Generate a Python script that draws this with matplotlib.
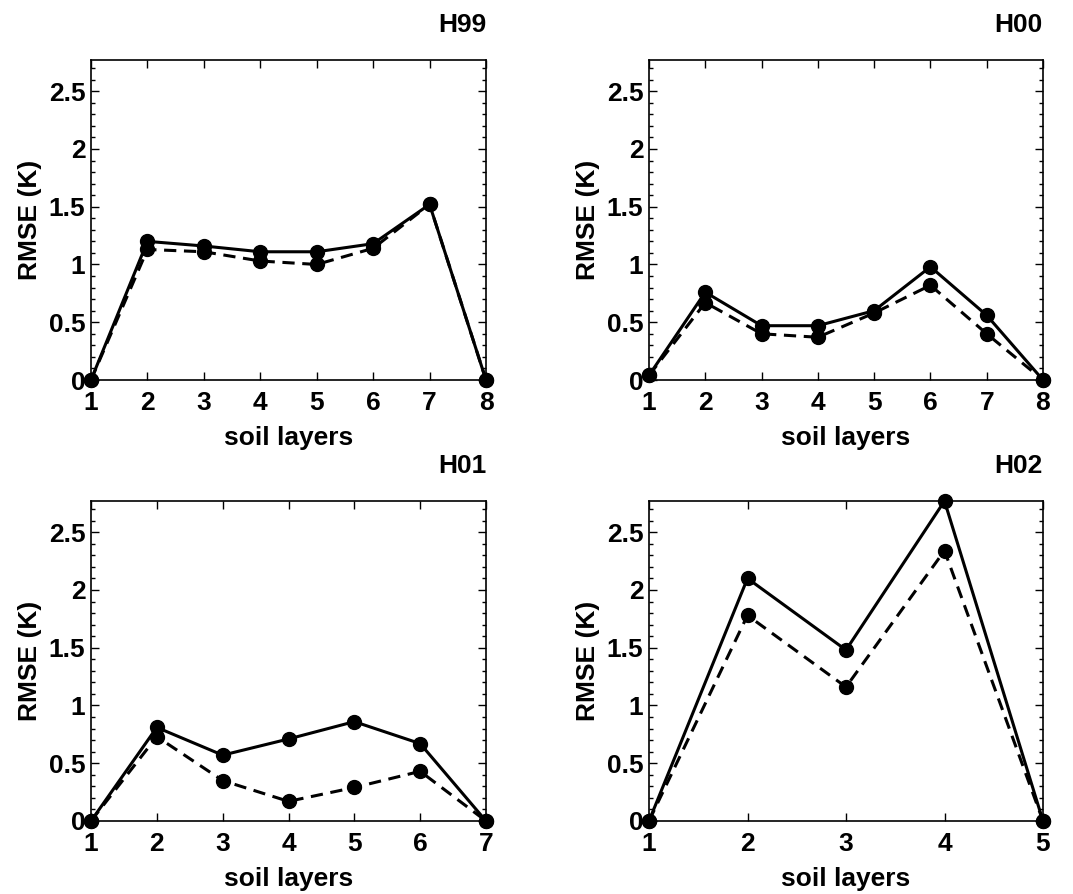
import matplotlib
matplotlib.use('Agg')
import matplotlib.pyplot as plt
from matplotlib.ticker import MultipleLocator

plt.rcParams['font.family'] = ['Liberation Sans', 'DejaVu Sans']
plt.rcParams['font.weight'] = 'bold'

# RMSE per soil layer, solid and dashed runs
h99_solid = [0, 1.20, 1.16, 1.11, 1.11, 1.18, 1.52, 0]
h99_dash = [0, 1.13, 1.11, 1.03, 1.00, 1.14, 1.52, 0]
h00_solid = [0.04, 0.76, 0.47, 0.47, 0.60, 0.98, 0.56, 0]
h00_dash = [0.04, 0.67, 0.40, 0.37, 0.58, 0.82, 0.40, 0]
h01_solid = [0, 0.81, 0.57, 0.71, 0.86, 0.67, 0]
h01_dash = [0, 0.73, 0.35, 0.17, 0.29, 0.43, 0]
h02_solid = [0, 2.10, 1.48, 2.77, 0]
h02_dash = [0, 1.78, 1.16, 2.34, 0]

titles = ['H99', 'H00', 'H01', 'H02']
solids = [h99_solid, h00_solid, h01_solid, h02_solid]
dashes = [h99_dash, h00_dash, h01_dash, h02_dash]
yticks = [0, 0.5, 1, 1.5, 2, 2.5]
ylabels = ['0', '0.5', '1', '1.5', '2', '2.5']

W, H = 1073, 894
fig = plt.figure(figsize=(W / 100, H / 100), dpi=100)

# axes boxes in pixels: left, top, right, bottom
boxes = [(91, 60, 486, 380), (649, 60, 1043, 380),
         (91, 501, 486, 821), (649, 501, 1043, 821)]

for box, title, ys, yd in zip(boxes, titles, solids, dashes):
    l, t, r, b = box
    ax = fig.add_axes([l / W, 1 - b / H, (r - l) / W, (b - t) / H])
    x = list(range(1, len(ys) + 1))
    ax.plot(x, yd, color='black', lw=2.2, ls=(0, (4, 2.5)), marker='o', ms=10,
            clip_on=False, zorder=3)
    ax.plot(x, ys, '-', color='black', lw=2.2, marker='o', ms=10, clip_on=False, zorder=4)
    ax.set_xlim(1, len(ys))
    ax.set_ylim(0, 2.77)
    ax.set_xticks(x)
    ax.set_yticks(yticks, ylabels)
    ax.yaxis.set_minor_locator(MultipleLocator(0.1))
    ax.tick_params(which='both', direction='in', top=True, right=True, labelsize=19)
    ax.tick_params(axis='x', pad=8)
    ax.tick_params(axis='y', pad=4)
    ax.tick_params(which='major', length=6, width=1)
    ax.tick_params(which='minor', length=3, width=1)
    for s in ax.spines.values():
        s.set_linewidth(1.2)
    ax.set_xlabel('soil layers', fontsize=19, fontweight='bold', labelpad=8)
    ax.set_ylabel('RMSE (K)', fontsize=19, fontweight='bold', labelpad=5)
    ax.set_title(title, loc='right', fontsize=19, fontweight='bold', pad=20)

fig.savefig('out.png', dpi=100)
